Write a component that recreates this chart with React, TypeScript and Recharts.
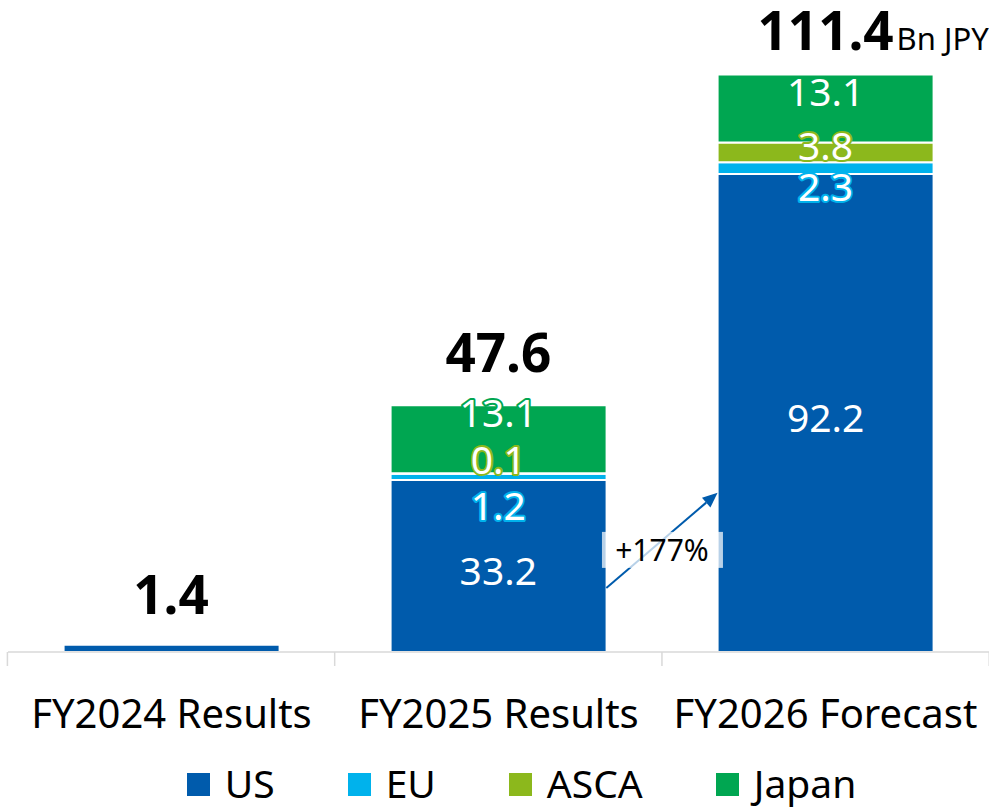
import React from "react";
import { BarChart, Bar, XAxis, YAxis, Legend, LabelList } from "recharts";

// values in Bn JPY
const categories = ["FY2024 Results", "FY2025 Results", "FY2026 Forecast"];
const usValues = [1.4, 33.2, 92.2];
const euValues = [0, 1.2, 2.3];
const ascaValues = [0, 0.1, 3.8];
const japanValues = [0, 13.1, 13.1];
const totals = [1.4, 47.6, 111.4];
const unitLabel = "Bn JPY";
const growthLabel = "+177%";

// arrow annotation, in data units
const arrowFrom = 12.35;
const arrowTo = 30.7;
const badgeAt = 19.7;

const FONT = '"Noto Sans", sans-serif';
const GAP = 0.17;
const PLOT_LEFT = 8;

const series = [
  { key: "us", name: "US", color: "#005BAC", values: usValues },
  { key: "eu", name: "EU", color: "#00B2EC", values: euValues },
  { key: "asca", name: "ASCA", color: "#8CB81C", values: ascaValues },
  { key: "japan", name: "Japan", color: "#00A651", values: japanValues },
];

// px nudges of the labels (style only)
const totalLift = [31, 33, 25];
const labelNudge: Record<string, number[]> = {
  us: [0, 4, 3],
  eu: [0, 28, 17],
  asca: [0, -15, -8],
  japan: [0, -28, -18],
};
const outlined: Record<string, boolean[]> = {
  us: [false, false, false],
  eu: [false, true, true],
  asca: [false, true, true],
  japan: [false, true, false],
};

const data = categories.map((category, i) => ({
  category,
  us: usValues[i],
  eu: euValues[i],
  asca: ascaValues[i],
  japan: japanValues[i],
}));

const SegText = ({ x, y, text, outline }: { x: number; y: number; text: string; outline?: string }) => (
  <text
    x={x}
    y={y}
    textAnchor="middle"
    dominantBaseline="central"
    fontFamily={FONT}
    fontSize={39}
    fill="#fff"
    stroke={outline || "none"}
    strokeWidth={outline ? 4 : 0}
    strokeLinejoin="round"
    paintOrder="stroke"
  >
    {text}
  </text>
);

// drawn once, from the last column: totals, segment values, ticks, arrow
const Overlay = (props: any) => {
  const vb = props.viewBox && props.viewBox.width != null ? props.viewBox : props;
  const { x, y, width, height } = vb;
  if (x == null || !width) return null;
  const band = width / (1 - 2 * GAP);
  const side = (band - width) / 2;
  const last = categories.length - 1;
  const idx = Math.round((x + width / 2 - PLOT_LEFT - band / 2) / band);
  if (idx !== last || !(height > 0)) return null;

  const ppu = height / japanValues[last];
  const base = y + height + (usValues[last] + euValues[last] + ascaValues[last]) * ppu;
  const out: React.ReactNode[] = [];

  categories.forEach((_, i) => {
    const cx = x + width / 2 - (last - i) * band;
    const top = base - totals[i] * ppu;
    out.push(
      <text key={`tot${i}`} x={cx} y={top - totalLift[i]} textAnchor="middle" fontFamily={FONT} fontSize={53} fontWeight="bold" fill="#000">
        {totals[i].toFixed(1)}
      </text>
    );
    if (i === last) {
      out.push(
        <text key="unit" x={cx + 71} y={top - totalLift[i]} fontFamily={FONT} fontSize={31} fill="#000">
          {unitLabel}
        </text>
      );
    }
    if (japanValues[i] > 0) {
      let acc = 0;
      series.forEach((s) => {
        const v = s.values[i];
        const mid = base - (acc + v / 2) * ppu;
        acc += v;
        out.push(
          <SegText
            key={`${s.key}${i}`}
            x={cx}
            y={mid + labelNudge[s.key][i]}
            text={v.toFixed(1)}
            outline={outlined[s.key][i] ? s.color : undefined}
          />
        );
      });
    }
  });

  // boundary ticks under the axis
  for (let k = 0; k <= categories.length; k++) {
    const tx = x + width + side - (categories.length - k) * band;
    out.push(<line key={`t${k}`} x1={tx} x2={tx} y1={base} y2={base + 14} stroke="#D9D9D9" strokeWidth={1.5} />);
  }

  const x1 = x - 2 * side;
  const y1 = base - arrowFrom * ppu;
  const x2 = x;
  const y2 = base - arrowTo * ppu;
  const ang = Math.atan2(y2 - y1, x2 - x1);
  const hl = 15;
  const hw = 6.5;
  const bx = x2 - hl * Math.cos(ang);
  const by = y2 - hl * Math.sin(ang);
  out.push(
    <g key="arrow">
      <line x1={x1} y1={y1} x2={bx} y2={by} stroke="#005BAC" strokeWidth={2} />
      <polygon
        points={`${x2},${y2} ${bx - hw * Math.sin(ang)},${by + hw * Math.cos(ang)} ${bx + hw * Math.sin(ang)},${by - hw * Math.cos(ang)}`}
        fill="#005BAC"
      />
      <rect x={x - side - 60} y={base - badgeAt * ppu - 18} width={121} height={36} fill="#fff" fillOpacity={0.72} />
      <text x={x - side} y={base - badgeAt * ppu} textAnchor="middle" dominantBaseline="central" fontFamily={FONT} fontSize={30} fill="#000">
        {growthLabel}
      </text>
    </g>
  );
  return <g>{out}</g>;
};

const CategoryTick = (props: any) => (
  <text x={props.x} y={props.y} textAnchor="middle" fontFamily={FONT} fontSize={40} fill="#000">
    {props.payload.value}
  </text>
);

const LegendContent = () => (
  <div
    style={{
      display: "flex",
      justifyContent: "center",
      alignItems: "center",
      gap: 73,
      height: 50,
      paddingLeft: 46,
      fontFamily: FONT,
      fontSize: 39,
      lineHeight: 1,
      color: "#000",
    }}
  >
    {series.map((s) => (
      <div key={s.key} style={{ display: "flex", alignItems: "center" }}>
        <span style={{ display: "inline-block", width: 23, height: 23, background: s.color, marginRight: 15, marginTop: 4 }} />
        <span>{s.name}</span>
      </div>
    ))}
  </div>
);

export default function App() {
  return (
    <div style={{ position: "absolute", left: 0, top: 0 }}>
      <BarChart width={989} height={807} data={data} margin={{ top: 30, right: 0, left: PLOT_LEFT, bottom: 0 }} barCategoryGap="17%">
        <XAxis
          dataKey="category"
          height={105}
          tickLine={false}
          tickSize={0}
          tickMargin={76}
          interval={0}
          axisLine={{ stroke: "#D9D9D9", strokeWidth: 1.5 }}
          tick={CategoryTick}
        />
        <YAxis hide domain={[0, 120]} />
        <Legend verticalAlign="bottom" content={LegendContent} />
        {series.map((s, idx) => (
          <Bar key={s.key} dataKey={s.key} name={s.name} stackId="a" fill={s.color} stroke="#fff" strokeWidth={2} isAnimationActive={false}>
            {idx === series.length - 1 && <LabelList dataKey="japan" content={Overlay} />}
          </Bar>
        ))}
      </BarChart>
    </div>
  );
}
